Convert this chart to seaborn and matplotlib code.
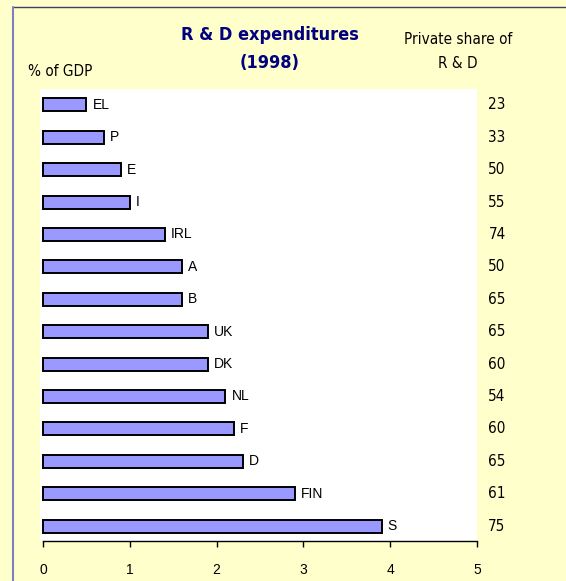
import matplotlib
matplotlib.use("Agg")
import matplotlib.pyplot as plt
from matplotlib.lines import Line2D
import matplotlib.transforms as mtransforms
import seaborn as sns
import pandas as pd

countries = ["EL", "P", "E", "I", "IRL", "A", "B", "UK", "DK", "NL", "F", "D", "FIN", "S"]
rd_gdp = [0.5, 0.7, 0.9, 1.0, 1.4, 1.6, 1.6, 1.9, 1.9, 2.1, 2.2, 2.3, 2.9, 3.9]
private_share = [23, 33, 50, 55, 74, 50, 65, 65, 60, 54, 60, 65, 61, 75]
x_ticks = [0, 1, 2, 3, 4, 5]

sns.set_theme(style="white")
plt.rcParams["font.family"] = ["Liberation Sans", "DejaVu Sans"]
plt.rcParams["text.color"] = "black"
plt.rcParams["xtick.color"] = "black"
plt.rcParams["xtick.labelcolor"] = "black"
narrow = dict(family=["DejaVu Sans"], stretch="condensed")

df = pd.DataFrame({"country": countries, "value": rd_gdp})

fig = plt.figure(figsize=(5.66, 5.81), dpi=100)
fig.patch.set_facecolor("#FFFFCC")
ax = fig.add_axes([40 / 566, 1 - 541 / 581, 437 / 566, 452 / 581])
ax.set_facecolor("white")

sns.barplot(data=df, y="country", x="value", orient="h", color="#9999FF",
            edgecolor="black", linewidth=1.4, width=0.4, saturation=1, ax=ax)

ax.set_xlim(-0.035, 5)
ax.set_ylim(13.46, -0.49)
for s in ["top", "right", "left"]:
    ax.spines[s].set_visible(False)
ax.spines["bottom"].set_color("black")
ax.spines["bottom"].set_linewidth(1.0)
ax.spines["bottom"].set_bounds(0, 5)
ax.set_xticks(x_ticks)
ax.set_xticklabels([str(t) for t in x_ticks], fontsize=10, color="black")
ax.tick_params(axis="x", direction="out", length=4, width=1, color="black", pad=12, bottom=True)
ax.set_yticks([])
ax.set_xlabel("")
ax.set_ylabel("")

# country labels at bar ends
for i, (c, v) in enumerate(zip(countries, rd_gdp)):
    ax.text(v + 0.07, i, c, ha="left", va="center", fontsize=10, color="black")

# private share column
trans = mtransforms.blended_transform_factory(fig.transFigure, ax.transData)
for i, p in enumerate(private_share):
    ax.text(497 / 566, i, str(p), transform=trans, ha="center", va="center",
            fontsize=11, color="black", clip_on=False, **narrow)

fig.text(270 / 566, 1 - 35 / 581, "R & D expenditures", ha="center", va="center",
         fontsize=13, fontweight="bold", color="#000080", **narrow)
fig.text(270 / 566, 1 - 63 / 581, "(1998)", ha="center", va="center",
         fontsize=13, fontweight="bold", color="#000080", **narrow)
fig.text(28 / 566, 1 - 72 / 581, "% of GDP", ha="left", va="center",
         fontsize=11, color="black", **narrow)
fig.text(458 / 566, 1 - 40 / 581, "Private share of", ha="center", va="center",
         fontsize=11, color="black", **narrow)
fig.text(458 / 566, 1 - 63 / 581, "R & D", ha="center", va="center",
         fontsize=11, color="black", **narrow)

# frame lines
fig.add_artist(Line2D([13 / 566, 1], [1 - 7 / 581, 1 - 7 / 581], transform=fig.transFigure,
                      color="#404060", linewidth=1.0))
fig.add_artist(Line2D([13 / 566, 13 / 566], [0, 1 - 7 / 581], transform=fig.transFigure,
                      color="#8080C0", linewidth=1.5))

fig.savefig("out.png", dpi=100, facecolor=fig.get_facecolor())
